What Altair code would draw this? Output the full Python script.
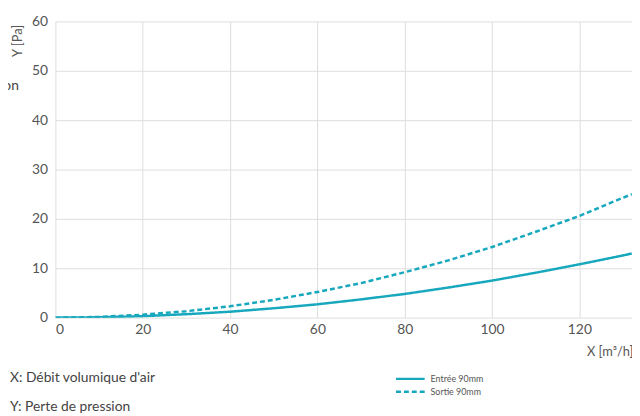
import altair as alt
import pandas as pd

# data
flow = [0, 10, 20, 30, 40, 50, 60, 70, 80, 90, 100, 110, 120, 130, 132]
entree = [0, 0.07, 0.3, 0.7, 1.2, 1.9, 2.7, 3.7, 4.8, 6.1, 7.5, 9.1, 10.8, 12.6, 13.0]
sortie = [0, 0.14, 0.6, 1.3, 2.3, 3.6, 5.2, 7.0, 9.2, 11.6, 14.3, 17.4, 20.6, 24.3, 25.0]
series_names = ["Entrée 90mm", "Sortie 90mm"]
x_ticks = [0, 20, 40, 60, 80, 100, 120]
y_ticks = [0, 10, 20, 30, 40, 50, 60]
notes = ["X: Débit volumique d'air", "Y: Perte de pression"]
side_note = ["Perte de pression"]

rows = []
for xv, a, b in zip(flow, entree, sortie):
    rows.append({"x": xv, "y": a, "s": series_names[0]})
    rows.append({"x": xv, "y": b, "s": series_names[1]})
df = pd.DataFrame(rows)

FONT = "Lato"
TEAL = "#17a8be"
dash_scale = alt.Scale(domain=series_names, range=[[1, 0], [5, 3]])

lines = alt.Chart(df).mark_line(color=TEAL, strokeWidth=2.5, clip=True).encode(
    x=alt.X("x:Q", scale=alt.Scale(domain=[0, 132.05], nice=False),
            axis=alt.Axis(values=x_ticks, title="X [m³/h]", titleAnchor="end",
                          titleAlign="right", titleBaseline="middle",
                          titleX=585, titleY=34, labelPadding=5)),
    y=alt.Y("y:Q", scale=alt.Scale(domain=[0, 60], nice=False),
            axis=alt.Axis(values=y_ticks, title="Y [Pa]", titleAngle=270,
                          titleAlign="right", titleBaseline="middle",
                          titleX=-38, titleY=3, labelPadding=8)),
    strokeDash=alt.StrokeDash("s:N", scale=dash_scale, legend=None),
    detail="s:N",
)

# manual legend built from the series names
leg_df = pd.DataFrame({"s": series_names, "ly": [362, 375]})
leg_lines = alt.Chart(leg_df).mark_rule(color=TEAL, strokeWidth=2.5).encode(
    x=alt.value(345), x2=alt.value(374),
    y=alt.Y("ly:Q", scale=None),
    strokeDash=alt.StrokeDash("s:N", scale=dash_scale, legend=None),
)
leg_text = alt.Chart(leg_df).mark_text(
    align="left", baseline="middle", fontSize=9, font=FONT, color="#555"
).encode(x=alt.value(380), y=alt.Y("ly:Q", scale=None), text="s:N")

notes_df = pd.DataFrame({"t": notes, "yy": [361, 391]})
note_marks = alt.Chart(notes_df).mark_text(
    align="left", baseline="middle", fontSize=14, font=FONT, color="#444"
).encode(x=alt.value(-46), y=alt.Y("yy:Q", scale=None), text="t:N")

side_df = pd.DataFrame({"t": side_note})
side_mark = alt.Chart(side_df).mark_text(
    align="right", baseline="middle", fontSize=14, font=FONT, color="#444"
).encode(x=alt.value(-37), y=alt.value(65), text="t:N")

chart = alt.layer(lines, leg_lines, leg_text, note_marks, side_mark).properties(
    width=584, height=300,
    autosize=alt.AutoSizeParams(type="none"),
    padding={"left": 48, "top": 11, "right": 0, "bottom": 97},
).configure_view(stroke=None).configure_axis(
    grid=True, gridColor="#dddddd", gridWidth=1, domain=False, ticks=False,
    labelFont=FONT, labelFontSize=14, labelColor="#555", labelFontWeight="normal",
    titleFont=FONT, titleFontSize=13, titleColor="#555", titleFontWeight="normal",
)

chart.save("out.html", embed_options={"renderer": "svg", "actions": False})
